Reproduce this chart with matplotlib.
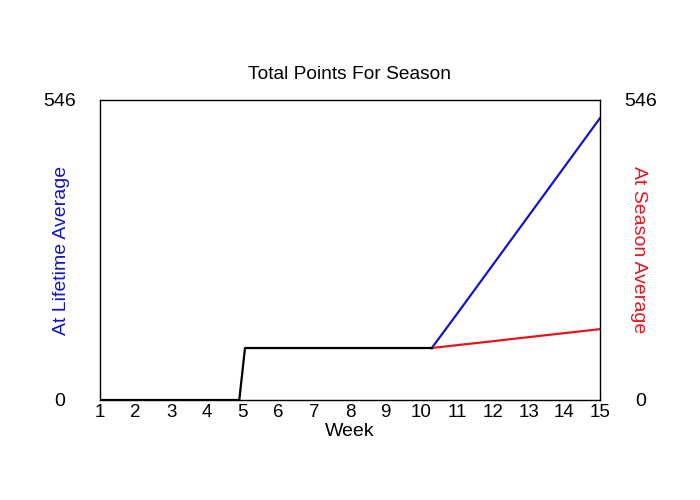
import matplotlib
matplotlib.use('Agg')
import matplotlib.pyplot as plt

plt.rcParams['font.family'] = ['Liberation Sans', 'DejaVu Sans']

# actual points scored so far (cumulative)
weeks_actual = [1, 2, 3, 4, 4.9, 5.06, 6, 7, 8, 9, 10, 10.29]
total_actual = [0, 0, 0, 0, 0, 94.6, 94.6, 94.6, 94.6, 94.6, 94.6, 94.6]

# projections for the rest of the season
weeks_proj = [10.29, 11, 12, 13, 14, 15]
lifetime_proj = [94.6, 157, 246, 335, 424, 513]
season_proj = [94.6, 99.8, 107, 114.4, 121.7, 129]

week_ticks = list(range(1, 16))
y_max = 546

fig = plt.figure(figsize=(7, 5), dpi=100)
ax = fig.add_axes([100/700, 100/500, 500/700, 300/500])

ax.plot(weeks_proj, lifetime_proj, color='#1414c8', linewidth=1.6)
ax.plot(weeks_proj, season_proj, color='#e8141c', linewidth=1.6)
ax.plot(weeks_actual, total_actual, color='black', linewidth=1.6)

ax.set_xlim(1, 15)
ax.set_ylim(0, y_max)
ax.set_xticks(week_ticks)
ax.set_xticklabels([str(w) for w in week_ticks], fontsize=13.5)
ax.tick_params(axis='x', length=0, pad=3)
ax.set_yticks([])

# y limits shown as text on both sides
for xpos in (-0.08, 1.081):
    ax.text(xpos, 1.0, str(y_max), transform=ax.transAxes, fontsize=14,
            ha='center', va='center_baseline')
    ax.text(xpos, 0.0, '0', transform=ax.transAxes, fontsize=14,
            ha='center', va='center_baseline')

ax.text(-0.076, 0.5, 'At Lifetime Average', transform=ax.transAxes,
        fontsize=14, color='#1414c8', rotation=90, ha='center', va='center')
ax.text(1.076, 0.5, 'At Season Average', transform=ax.transAxes,
        fontsize=14, color='#e8141c', rotation=-90, ha='center', va='center')

ax.set_xlabel('Week', fontsize=14, labelpad=1)
ax.set_title('Total Points For Season', fontsize=13.8, pad=15)

for s in ax.spines.values():
    s.set_linewidth(1.0)

fig.savefig('out.png', dpi=100)
